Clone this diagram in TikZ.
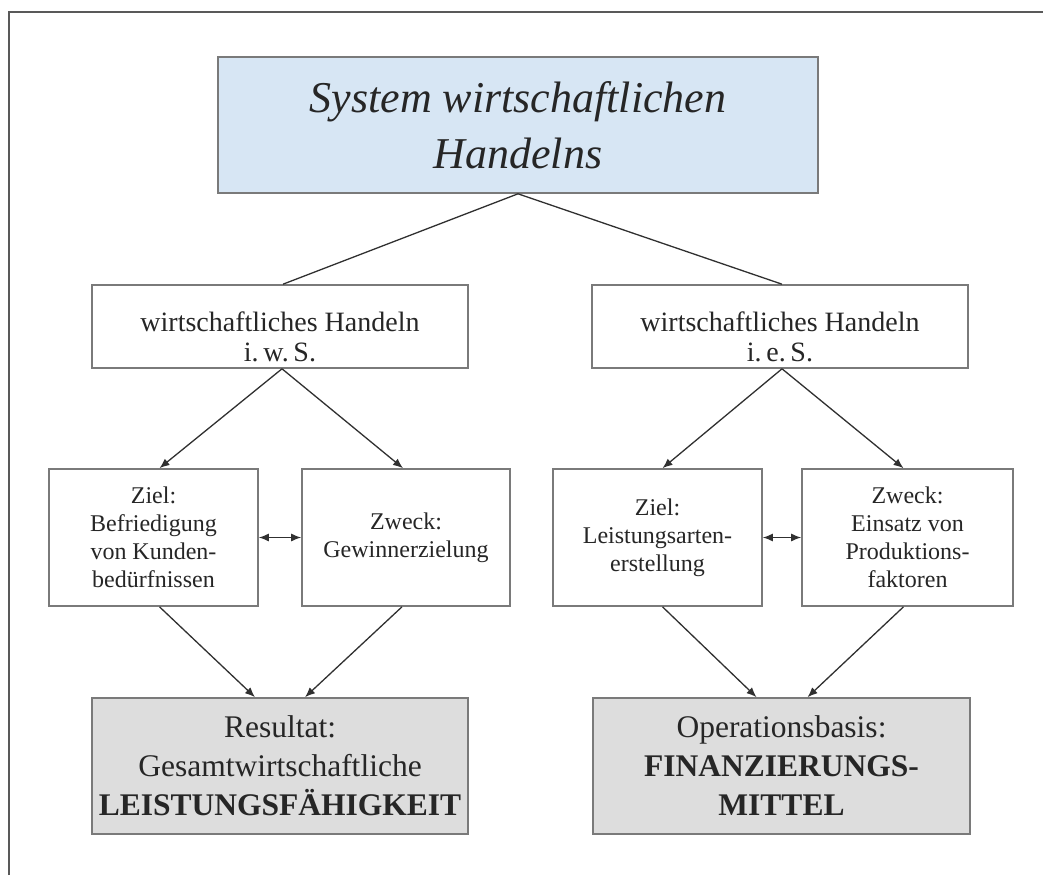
\documentclass[tikz,border=0pt]{standalone}
\usepackage{fontspec}
\setmainfont{Liberation Serif}
\usetikzlibrary{arrows.meta,calc}
\definecolor{boxblue}{HTML}{D7E6F4}
\definecolor{boxgray}{HTML}{DDDDDD}
\definecolor{edgegray}{HTML}{7A7A7A}
\definecolor{txt}{HTML}{262626}
\definecolor{linecol}{HTML}{303030}
\newcommand{\lowerstrut}{\rule{0pt}{40pt}}
\tikzset{
  box/.style={draw=edgegray, line width=1.6pt, align=center, text=txt, inner sep=2pt},
  topbox/.style={box, fill=boxblue, minimum width=600pt, minimum height=136pt,
     font=\itshape\fontsize{44}{56}\selectfont},
  midbox/.style={box, fill=white, minimum width=376pt, minimum height=83pt,
     font=\fontsize{28}{30}\selectfont},
  smallbox/.style={box, fill=white, minimum height=137pt,
     font=\fontsize{24}{28}\selectfont},
  resbox/.style={box, fill=boxgray, minimum width=376pt, minimum height=136pt,
     font=\fontsize{31.5}{39}\selectfont},
  conn/.style={draw=linecol, line width=1.3pt},
  arr/.style={conn, -{Latex[length=10pt,width=8pt]}},
  darr/.style={conn, {Latex[length=10pt,width=8pt]}-{Latex[length=10pt,width=8pt]}},
}
\begin{document}
\begin{tikzpicture}[x=1pt,y=-1pt]
\useasboundingbox (0,0) rectangle (1043,875);
\draw[line width=2.5pt, color=black!65] (9,875) -- (9,12) -- (1043,12);

\node[topbox] (top) at (518,125) {System wirtschaftlichen\\Handelns};
\node[midbox] (L1) at (280,326.5) {\lowerstrut wirtschaftliches Handeln\\i.\,w.\,S.};
\node[midbox] (R1) at (780,326.5) {\lowerstrut wirtschaftliches Handeln\\i.\,e.\,S.};

\node[smallbox, minimum width=209pt] (LZiel) at (153.5,537.5) {Ziel:\\Befriedigung\\von Kunden-\\bedürfnissen};
\node[smallbox, minimum width=208pt] (LZweck) at (406,537.5) {Zweck:\\Gewinnerzielung};
\node[smallbox, minimum width=209pt] (RZiel) at (657.5,537.5) {Ziel:\\Leistungsarten-\\erstellung};
\node[smallbox, minimum width=211pt] (RZweck) at (907.5,537.5) {Zweck:\\Einsatz von\\Produktions-\\faktoren};

\node[resbox] (LRes) at (280,766) {Resultat:\\Gesamtwirtschaftliche\\\textbf{LEISTUNGSFÄHIGKEIT}};
\node[resbox, minimum width=377pt] (ROp) at (781.5,766) {Operationsbasis:\\\textbf{FINANZIERUNGS-}\\\textbf{MITTEL}};

\draw[conn] (top.south) -- ([xshift=3pt]L1.north);
\draw[conn] (top.south) -- ([xshift=2pt]R1.north);

\draw[arr] ([xshift=2pt]L1.south) -- ([xshift=6pt]LZiel.north);
\draw[arr] ([xshift=2pt]L1.south) -- ([xshift=-3pt]LZweck.north);
\draw[arr] ([xshift=2pt]R1.south) -- ([xshift=5pt]RZiel.north);
\draw[arr] ([xshift=2pt]R1.south) -- ([xshift=-4pt]RZweck.north);

\draw[darr] (LZiel.east) -- (LZweck.west);
\draw[darr] (RZiel.east) -- (RZweck.west);

\draw[arr] ([xshift=6pt]LZiel.south) -- ([xshift=-25pt]LRes.north);
\draw[arr] ([xshift=-4pt]LZweck.south) -- ([xshift=25pt]LRes.north);
\draw[arr] ([xshift=5pt]RZiel.south) -- ([xshift=-25pt]ROp.north);
\draw[arr] ([xshift=-4pt]RZweck.south) -- ([xshift=26pt]ROp.north);
\end{tikzpicture}
\end{document}
